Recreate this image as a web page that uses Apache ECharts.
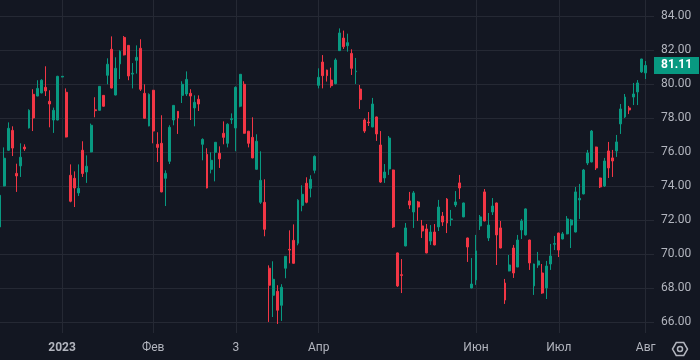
<!DOCTYPE html>
<html><head><meta charset="utf-8">
<style>html,body{margin:0;padding:0;background:#131722;}#c{width:700px;height:360px;}</style>
<script src="https://cdn.jsdelivr.net/npm/echarts@6.0.0/dist/echarts.min.js"></script>
</head><body><div id="c"></div>
<script>
// Each candle: [open, close, low, high]
const candles = [
[71.61,73.47,71.55,73.52],[74.02,75.65,74.0,76.29],[76.12,77.41,76.08,77.76],[77.29,76.25,75.78,77.53],
[74.76,74.61,73.67,75.33],[75.2,75.71,74.55,76.53],[76.31,76.2,76.08,76.47],[77.43,78.47,77.4,78.53],
[79.41,78.02,77.25,79.71],[79.31,79.76,79.3,80.24],[79.49,80.24,79.47,80.3],[79.82,79.61,79.31,81.06],
[79.0,78.84,77.47,79.65],[77.9,78.47,77.14,78.63],[77.9,80.47,77.88,80.5],[80.43,80.47,80.42,80.48],
[79.53,76.9,76.88,79.76],[74.65,73.12,73.06,75.29],[74.47,73.9,72.78,74.88],[73.61,73.88,73.43,75.29],
[76.12,74.75,74.55,76.65],[74.84,75.18,74.2,75.82],[76.02,77.59,76.0,77.69],[78.5,78.45,78.06,79.24],
[78.47,79.88,78.45,79.9],[79.35,78.71,78.69,79.37],[80.53,81.18,80.0,81.53],[82.06,79.78,79.76,82.82],
[79.37,80.94,79.35,81.59],[81.2,81.94,80.31,82.0],[82.76,81.73,81.7,82.84],[82.29,80.49,80.24,82.31],
[80.6,80.65,79.76,81.25],[81.41,81.59,80.63,82.29],[82.12,79.71,79.61,82.65],[79.47,78.0,77.98,80.0],
[77.55,79.41,77.53,79.47],[79.65,77.25,76.53,79.67],[76.47,76.29,75.43,77.18],[76.53,73.67,73.65,78.18],
[74.47,74.76,72.84,74.94],[75.47,77.47,75.31,77.59],[77.9,78.76,77.59,78.78],[78.41,78.02,77.08,78.43],
[79.35,80.0,78.9,80.18],[79.43,80.29,79.31,80.76],[79.47,79.31,77.9,79.71],[78.61,78.94,77.53,79.35],
[79.12,78.84,78.43,79.35],[76.47,76.76,75.53,76.82],[75.88,73.9,73.88,76.24],[75.0,75.53,74.76,76.0],
[76.0,76.59,74.29,76.6],[75.94,75.61,75.08,76.35],[77.12,76.88,76.47,77.82],[76.53,77.65,76.29,77.71],
[77.92,77.98,77.67,78.29],[77.43,79.82,76.06,79.88],[78.71,80.59,78.65,80.6],[80.0,77.12,77.1,80.18],
[77.24,76.53,76.29,77.26],[76.88,75.67,75.65,78.06],[75.0,76.65,74.98,77.06],[73.06,74.35,72.96,76.06],
[73.06,71.47,71.06,74.41],[69.18,68.18,66.02,69.35],[67.59,68.53,66.31,69.59],[67.82,66.71,65.9,68.18],
[67.0,68.06,66.08,68.24],[69.18,69.88,68.59,69.9],[70.29,70.25,69.47,71.41],[70.82,69.47,69.45,71.76],
[70.65,73.18,70.53,73.24],[72.88,73.53,72.53,74.06],[74.18,73.06,73.0,74.53],[73.88,74.41,73.35,74.65],
[74.94,75.76,74.76,75.82],[79.94,80.41,79.76,80.94],[81.31,80.51,79.76,81.72],[80.84,80.51,80.16,80.86],
[80.25,79.92,79.8,80.98],[80.04,81.43,80.0,81.53],[81.98,83.02,81.96,83.29],[82.72,82.21,82.08,83.16],
[82.27,82.45,81.92,82.98],[81.82,80.94,80.55,82.06],[80.74,80.78,80.02,81.55],[79.72,79.1,78.55,79.96],
[77.9,77.25,77.14,78.0],[77.78,77.74,77.55,78.37],[77.49,78.84,77.47,79.2],[78.08,77.08,76.67,78.1],
[76.43,74.25,74.2,77.25],[74.49,74.84,74.2,75.31],[75.02,76.84,74.67,76.96],[74.96,71.61,71.55,74.98],
[70.08,68.14,68.08,70.1],[68.8,68.76,67.72,69.72],[70.49,71.55,70.47,71.84],[73.14,72.9,72.67,73.67],
[72.49,73.61,71.55,73.72],[73.08,72.78,71.96,73.14],[71.67,71.37,70.96,72.02],[71.49,70.08,70.06,71.78],
[70.78,71.31,70.55,71.72],[71.31,70.55,70.53,71.78],[71.61,72.78,71.37,73.2],[72.25,71.9,71.67,72.49],
[73.25,71.84,71.25,73.31],[72.04,72.08,71.67,72.61],[72.9,73.08,72.78,73.72],[74.2,73.9,73.25,74.67],
[72.2,73.02,72.18,73.04],[70.96,70.43,69.55,70.98],[68.02,68.25,68.0,69.78],[68.49,70.2,68.2,71.14],
[71.67,72.2,71.43,72.31],[73.67,71.96,71.94,73.84],[70.96,71.72,70.78,72.43],[72.49,72.84,72.31,73.31],
[73.02,71.14,69.37,73.04],[71.55,70.37,70.35,71.96],[68.31,67.31,67.08,68.55],[69.02,69.37,69.0,69.96],
[70.37,68.9,68.61,70.55],[69.25,70.84,69.24,71.14],[71.43,71.96,70.9,72.08],[71.14,72.67,71.1,72.7],
[70.84,69.49,69.08,70.86],[68.14,69.43,67.61,69.45],[69.37,69.61,69.2,70.14],[68.9,67.72,67.67,69.43],
[68.02,69.31,67.37,69.61],[69.43,69.9,69.08,70.61],[70.59,70.63,70.25,71.08],[71.25,70.25,69.84,71.27],
[70.9,71.2,70.88,71.31],[71.2,72.08,71.18,72.25],[71.72,72.02,70.37,72.08],[71.31,73.67,71.29,73.96],
[73.2,73.29,72.08,74.14],[73.55,74.96,73.53,75.02],[75.37,75.96,75.25,76.14],[75.43,77.25,75.41,77.31],
[76.31,75.08,74.96,76.33],[74.49,73.96,73.9,74.51],[74.02,75.49,73.96,75.67],[76.08,75.08,74.49,76.61],
[75.67,75.49,74.55,76.14],[76.08,76.61,75.73,77.02],[77.67,78.55,77.08,78.84],[78.08,79.25,78.02,79.43],
[78.61,78.49,78.25,78.73],[79.25,79.43,78.78,80.08],[79.55,80.08,78.78,80.25],[80.73,81.49,80.67,81.5],
[80.67,81.11,80.31,81.37]
];
const tickLabels = ['2023','Фев','3','Апр','Июн','Июл','Авг'];
const tickIndex = [15,37,57,77,115,135,156];
const lastPrice = 81.11;
const padSlots = 2;

const categories = [];
for (let i = 0; i < candles.length + padSlots; i++) categories.push(String(i));
const isTick = (i) => tickIndex.indexOf(i) >= 0;

const chart = echarts.init(document.getElementById('c'), null, {renderer:'canvas'});
const txt = '#b2b5be';
const gridCol = '#252934';
const cx = 680, cy = 349, r = 7.5;
const hex = [];
for (let k = 0; k < 6; k++) { const a = Math.PI / 3 * k; hex.push([cx + r * Math.cos(a), cy + r * Math.sin(a)]); }

chart.setOption({
  backgroundColor: '#131722',
  animation: false,
  grid: {left: 0, right: 46, top: 0, bottom: 27, containLabel: false},
  xAxis: {
    type: 'category', data: categories, boundaryGap: false,
    axisLine: {show: false}, axisTick: {show: false},
    axisLabel: {
      interval: (i) => isTick(i), color: txt, fontSize: 12, fontFamily: 'Roboto', margin: 9,
      formatter: (v, i) => { const k = tickIndex.indexOf(Number(v)); const s = k >= 0 ? tickLabels[k] : ''; return k === 0 ? '{b|' + s + '}' : s; },
      rich: {b: {fontWeight: 'bold', color: txt, fontSize: 12, fontFamily: 'Roboto'}}
    },
    splitLine: {show: true, interval: (i) => isTick(i), lineStyle: {color: gridCol, width: 1}}
  },
  yAxis: {
    type: 'value', position: 'right', min: 65.37, max: 84.96, splitNumber: 10,
    axisLine: {show: false}, axisTick: {show: false},
    axisLabel: {color: txt, fontSize: 12, fontFamily: 'Roboto', margin: 7, showMinLabel: false, showMaxLabel: false,
      formatter: (v) => v.toFixed(2)},
    splitLine: {show: true, showMinLine: false, showMaxLine: false, lineStyle: {color: gridCol, width: 1}}
  },
  series: [{
    type: 'candlestick', data: candles, barWidth: 2.4, clip: false,
    itemStyle: {color: '#089981', color0: '#f23645', borderColor: '#089981', borderColor0: '#f23645', borderWidth: 1},
    markLine: {
      silent: true, symbol: ['none', 'none'], animation: false,
      lineStyle: {color: 'rgba(0,0,0,0)', width: 1, type: 'solid'},
      label: {show: true, position: 'end', distance: 0, formatter: lastPrice.toFixed(2), color: '#ffffff', opacity: 1,
        backgroundColor: '#089981', fontWeight: 'bold', fontSize: 12, fontFamily: 'Roboto', padding: [3, 7, 2, 7], lineHeight: 12},
      emphasis: {disabled: true},
      data: [{yAxis: lastPrice}]
    }
  }],
  graphic: [
    {type: 'polygon', shape: {points: hex}, style: {fill: 'none', stroke: txt, lineWidth: 1.5}, silent: true},
    {type: 'circle', shape: {cx: cx, cy: cy, r: 2.5}, style: {fill: 'none', stroke: txt, lineWidth: 1.5}, silent: true}
  ]
});
</script>
</body></html>
